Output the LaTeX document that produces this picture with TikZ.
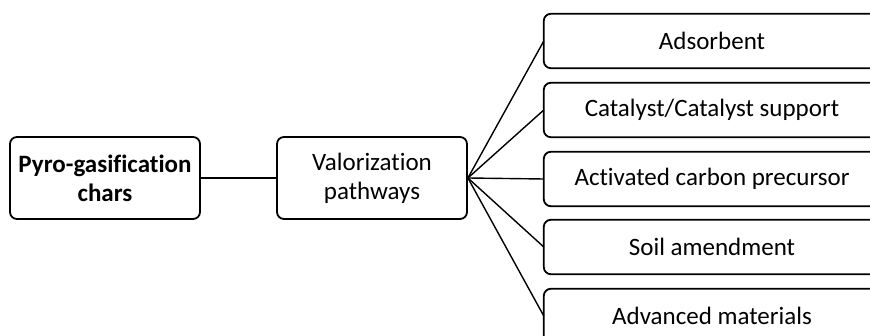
\documentclass[tikz,border=0pt]{standalone}
\usepackage{fontspec}
\setmainfont{Carlito}[Ligatures={NoCommon,NoContextual,NoRequired}]
\newcommand{\nl}{\kern0pt}
\begin{document}
\begin{tikzpicture}[x=1pt,y=-1pt,
  txt/.style={align=center, font=\fontsize{25}{29}\selectfont, inner sep=0pt},
  box/.style={txt, draw=black, line width=1.8pt, rounded corners=7pt},
  bigbox/.style={box, minimum width=190pt, minimum height=82pt},
  leaf/.style={txt, minimum width=336pt, minimum height=54pt},
  leafline/.style={draw=black, line width=1.8pt, rounded corners=7pt},
  conn/.style={draw=black, line width=1.4pt}]
\useasboundingbox (0,0) rectangle (870,336);
\fill[white] (0,0) rectangle (870,336);
\node[bigbox] (chars) at (105,178) {\textbf{Pyro-gasif\nl ication}\\\textbf{chars}};
\node[bigbox] (val) at (372,178) {Valorizat\nl ion\\pathways};
\node[leaf] (a) at (712,41) {Adsorbent};
\node[leaf] (b) at (712,110) {Catalyst/Catalyst support};
\node[leaf] (c) at (712,179) {Act\nl ivated carbon precursor};
\node[leaf] (d) at (712,247) {Soil amendment};
\node[leaf] (e) at (712,316) {Advanced materials};
\begin{scope}
\clip (0,0) rectangle (870,336);
\foreach \n in {a,b,c,d,e}
  \draw[leafline] (\n.north east) -- (\n.north west) -- (\n.south west) -- (\n.south east);
\end{scope}
\draw[conn] (chars) -- (val);
\foreach \n in {a,b,c,d,e} \draw[conn] (val.east) -- (\n.west);
\end{tikzpicture}
\end{document}
